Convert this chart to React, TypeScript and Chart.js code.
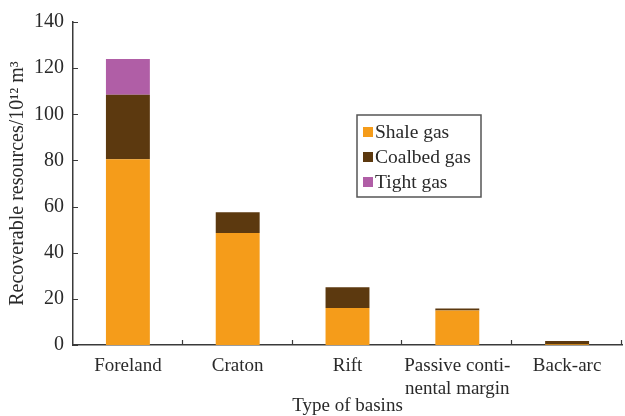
import React, { useEffect, useRef } from "react";
import { Chart, registerables } from "chart.js";

Chart.register(...registerables);

const categories: (string | string[])[] = [
  "Foreland",
  "Craton",
  "Rift",
  ["Passive conti-", "nental margin"],
  "Back-arc",
];
const shaleGas = [80.5, 48.5, 16, 15, 0.3];
const coalbedGas = [28, 9, 9, 0.8, 1.4];
const tightGas = [15.5, 0, 0, 0, 0];
const seriesNames = ["Shale gas", "Coalbed gas", "Tight gas"];
const seriesColors = ["#F59C1A", "#5C390F", "#B05EA6"];
const yTitle = "Recoverable resources/10\u00B9\u00B2 m\u00B3";
const xTitle = "Type of basins";

const FONT = "\"Liberation Serif\", serif";
const AXIS = "#3a3a3a";
const TEXT = "#2a2a2a";

const tickPlugin = {
  id: "innerTicks",
  afterDraw(chart: any) {
    const ctx = chart.ctx;
    const x = chart.scales.x;
    const y = chart.scales.y;
    ctx.save();
    ctx.strokeStyle = AXIS;
    ctx.lineWidth = 1.2;
    ctx.beginPath();
    y.ticks.forEach((_t: any, i: number) => {
      const py = Math.round(y.getPixelForTick(i)) + 0.5;
      ctx.moveTo(x.left, py);
      ctx.lineTo(x.left + 5, py);
    });
    const n = chart.data.labels.length;
    const w = (x.right - x.left) / n;
    for (let i = 1; i <= n; i++) {
      const px = Math.round(x.left + w * i) - 0.5;
      ctx.moveTo(px, y.bottom);
      ctx.lineTo(px, y.bottom - 5);
    }
    ctx.stroke();
    ctx.restore();
  },
};

const legendPlugin = {
  id: "boxLegend",
  afterDraw(chart: any) {
    const ctx = chart.ctx;
    const ds = chart.data.datasets;
    const left = 357;
    const top = 115;
    const width = 124;
    const height = 82;
    ctx.save();
    ctx.fillStyle = "#ffffff";
    ctx.fillRect(left, top, width, height);
    ctx.strokeStyle = "#555555";
    ctx.lineWidth = 1.5;
    ctx.strokeRect(left, top, width, height);
    ctx.font = "normal 400 19.5px \"Liberation Serif\", serif";
    ctx.textBaseline = "middle";
    ctx.textAlign = "left";
    ds.forEach((d: any, i: number) => {
      const cy = top + 17 + i * 25;
      ctx.fillStyle = d.backgroundColor;
      ctx.fillRect(left + 6, cy - 5, 10, 10);
      ctx.fillStyle = TEXT;
      ctx.fillText(d.label, left + 18, cy + 1);
    });
    ctx.restore();
  },
};

export default function App() {
  const ref = useRef<HTMLCanvasElement>(null);
  useEffect(() => {
    if (!ref.current) return;
    const chart = new Chart(ref.current, {
      type: "bar",
      data: {
        labels: categories,
        datasets: [shaleGas, coalbedGas, tightGas].map((vals, i) => ({
          label: seriesNames[i],
          data: vals,
          backgroundColor: seriesColors[i],
          borderWidth: 0,
          categoryPercentage: 1,
          barPercentage: 0.4,
        })),
      },
      options: {
        animation: false,
        responsive: false,
        maintainAspectRatio: false,
        layout: { padding: { top: 22, right: 3, left: 0, bottom: 0 } },
        plugins: { legend: { display: false }, tooltip: { enabled: false } },
        scales: {
          x: {
            stacked: true,
            grid: { display: false, drawTicks: false },
            border: { display: true, color: AXIS, width: 1.5 },
            ticks: { color: TEXT, font: { family: FONT, size: 19 }, padding: 10, maxRotation: 0, autoSkip: false },
            title: { display: true, text: xTitle, color: TEXT, font: { family: FONT, size: 19, lineHeight: 1.0 }, padding: { top: 0, bottom: 0 } },
            afterFit: (s: any) => { s.height = 71; },
          },
          y: {
            stacked: true,
            min: 0,
            max: 140,
            ticks: { stepSize: 20, color: TEXT, font: { family: FONT, size: 20 }, padding: 9 },
            grid: { display: false, drawTicks: false },
            border: { display: true, color: AXIS, width: 1.5 },
            title: { display: true, text: yTitle, color: TEXT, font: { family: FONT, size: 20, lineHeight: 1.2 }, padding: { top: 6, bottom: 0 } },
            afterFit: (s: any) => { s.width = 73; },
          },
        },
      },
      plugins: [tickPlugin, legendPlugin],
    });
    return () => chart.destroy();
  }, []);
  return (
    <div style={{ position: "fixed", left: 0, top: 0, width: 625, height: 416, background: "#fff" }}>
      <canvas ref={ref} width={625} height={416} style={{ display: "block" }} />
    </div>
  );
}
